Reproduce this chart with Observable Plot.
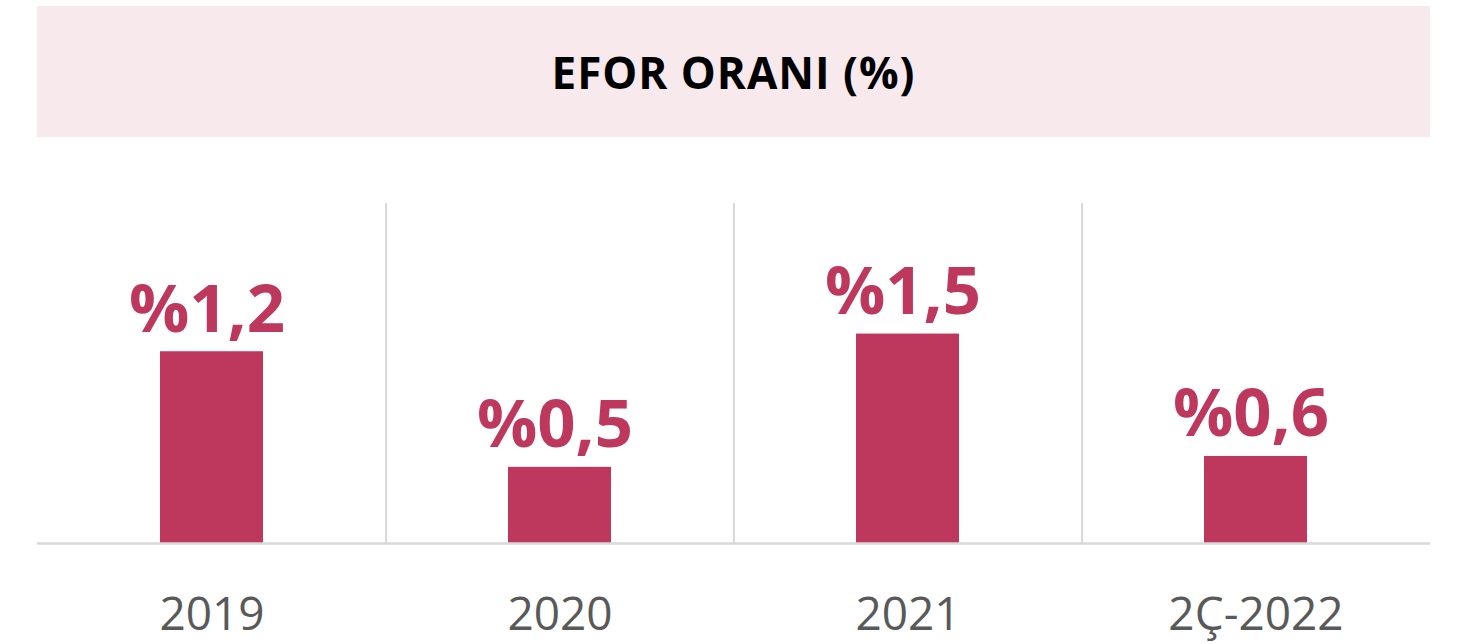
<!DOCTYPE html>
<html>
<head>
<meta charset="utf-8">
<script src="https://cdn.jsdelivr.net/npm/d3@7"></script>
<script src="https://cdn.jsdelivr.net/npm/@observablehq/plot@0.6"></script>
<style>
  body { margin: 0; background: #fff; font-family: "Open Sans", sans-serif; }
  #title {
    margin: 6px 0 0 37px; width: 1393px; height: 131px; background: #f7e9ec;
    display: flex; align-items: center; justify-content: center;
    font-weight: 700; font-size: 44px; color: #000; letter-spacing: 1px;
  }
  #chart svg { display: block; }
</style>
</head>
<body>
<div id="title">EFOR ORANI (%)</div>
<div id="chart"></div>
<script>
const categories = ["2019", "2020", "2021", "2Ç-2022"];
const barValues = [1.41, 0.56, 1.54, 0.64];
const labels = ["%1,2", "%0,5", "%1,5", "%0,6"];

const data = categories.map((c, i) => ({cat: c, v: barValues[i], label: labels[i]}));
const barColor = "#be375c";

const chart = Plot.plot({
  width: 1458,
  height: 507,
  marginLeft: 37,
  marginRight: 28,
  marginTop: 66,
  marginBottom: 101,
  style: {fontFamily: "Open Sans, sans-serif", background: "white"},
  x: {domain: categories, paddingInner: 0.705, paddingOuter: 0.3525, axis: null},
  y: {domain: [0, 2.5], axis: null},
  marks: [
    Plot.ruleX(categories.slice(1), {x: d => d, dx: -174, y1: 0, y2: 2.5, stroke: "#d9d9d9", strokeWidth: 2}),
    Plot.barY(data, {x: "cat", y: "v", fill: barColor}),
    Plot.ruleY([0], {stroke: "#d9d9d9", strokeWidth: 2.5}),
    Plot.text(data, {x: "cat", y: "v", text: "label", lineAnchor: "bottom", dy: -20, dx: -5, fill: barColor, fontWeight: 700, fontSize: 67}),
    Plot.text(data, {x: "cat", y: 0, text: "cat", lineAnchor: "middle", dy: 72, fill: "#595959", fontSize: 46})
  ]
});
document.getElementById("chart").appendChild(chart);
</script>
</body>
</html>
